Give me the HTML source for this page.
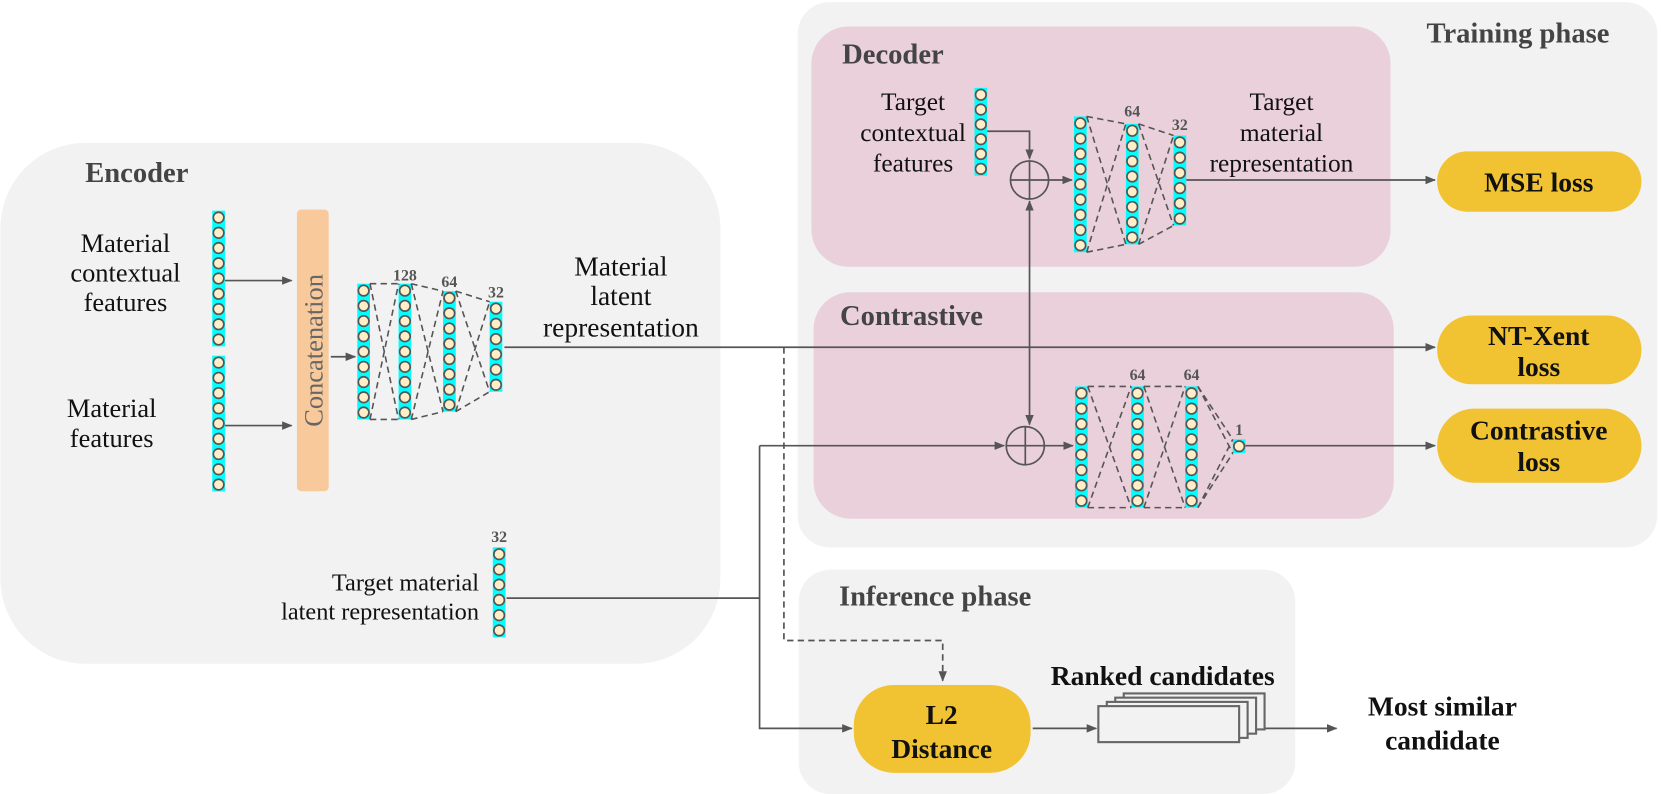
<!DOCTYPE html>
<html><head><meta charset="utf-8"><style>
html,body{margin:0;padding:0;background:#fff;}
svg{display:block;}
text{font-family:"Liberation Serif",serif;}
.t{font-size:23px;fill:#111;}
.h{font-size:27px;font-weight:bold;fill:#444;}
.b{font-size:26px;font-weight:bold;fill:#111;}
.n{font-size:15px;font-weight:bold;fill:#555;}
</style></head><body>
<svg id="s" width="1661" height="794" viewBox="0 0 1568 750" xmlns="http://www.w3.org/2000/svg">
<defs><marker id="a" markerWidth="10" markerHeight="8" refX="9" refY="4" orient="auto" markerUnits="userSpaceOnUse"><path d="M0,0 L10,4 L0,8 z" fill="#555"/></marker></defs>
<rect x="0" y="135" width="680" height="492" rx="80" fill="#f2f2f2"/>
<rect x="753" y="2" width="812" height="515" rx="30" fill="#f2f2f2"/>
<rect x="766" y="25" width="547" height="227" rx="35" fill="#ead0db"/>
<rect x="768" y="276" width="548" height="214" rx="35" fill="#ead0db"/>
<rect x="754" y="538" width="469" height="212" rx="30" fill="#f2f2f2"/>
<text class="h" x="80" y="172">Encoder</text>
<text class="h" x="795" y="60">Decoder</text>
<text class="h" x="793" y="307">Contrastive</text>
<text class="h" x="1347" y="40">Training phase</text>
<text class="h" x="792" y="572">Inference phase</text>
<g class="t" text-anchor="middle" style="font-size:25px">
<text x="118" y="238">Material</text><text x="118" y="266">contextual</text><text x="118" y="294">features</text>
<text x="105" y="394">Material</text><text x="105" y="422">features</text>
</g>
<g class="t" text-anchor="middle" style="font-size:26px">
<text x="586" y="260">Material</text><text x="586" y="288">latent</text><text x="586" y="318">representation</text>
</g>
<g class="t" text-anchor="middle" style="font-size:24px">
<text x="862" y="104">Target</text><text x="862" y="133">contextual</text><text x="862" y="162">features</text>
<text x="1210" y="104">Target</text><text x="1210" y="133">material</text><text x="1210" y="162">representation</text>
</g>
<g class="t" text-anchor="end" style="font-size:23px"><text x="452" y="558">Target material</text><text x="452" y="585">latent representation</text></g>
<rect x="280" y="198" width="30" height="266" rx="4" fill="#f8c99b"/>
<text transform="translate(304,331) rotate(-90)" text-anchor="middle" style="font-size:25px;fill:#666">Concatenation</text>
<g stroke="#555" stroke-width="1.6" fill="none">
<line x1="212" y1="265" x2="275" y2="265" marker-end="url(#a)"/>
<line x1="212" y1="402" x2="275" y2="402" marker-end="url(#a)"/>
<line x1="312" y1="337" x2="335" y2="337" marker-end="url(#a)"/>
<line x1="476" y1="328" x2="1355" y2="328" marker-end="url(#a)"/>
<path d="M740,328 V605 H890 V643" stroke-dasharray="6,4" marker-end="url(#a)"/>
<line x1="972" y1="328" x2="972" y2="190" marker-end="url(#a)"/>
<line x1="972" y1="328" x2="972" y2="401" marker-end="url(#a)"/>
<path d="M932,124 H972 V150" marker-end="url(#a)"/>
<circle cx="972" cy="170" r="18"/><line x1="954" y1="170" x2="990" y2="170"/><line x1="972" y1="152" x2="972" y2="188"/>
<line x1="990" y1="170" x2="1012" y2="170" marker-end="url(#a)"/>
<line x1="1120" y1="170" x2="1355" y2="170" marker-end="url(#a)"/>
<circle cx="968" cy="421" r="18"/><line x1="950" y1="421" x2="986" y2="421"/><line x1="968" y1="403" x2="968" y2="439"/>
<line x1="717" y1="421" x2="948" y2="421" marker-end="url(#a)"/>
<line x1="986" y1="421" x2="1013" y2="421" marker-end="url(#a)"/>
<line x1="1176" y1="421" x2="1355" y2="421" marker-end="url(#a)"/>
<line x1="478" y1="565" x2="717" y2="565"/>
<path d="M717,421 V688 H804" marker-end="url(#a)"/>
<line x1="975" y1="688" x2="1035" y2="688" marker-end="url(#a)"/>
<line x1="1194" y1="688" x2="1262" y2="688" marker-end="url(#a)"/>
</g>
<g stroke="#666" stroke-width="2" fill="#f2f2f2">
<rect x="1061" y="655" width="133" height="34"/>
<rect x="1053" y="659" width="133" height="34"/>
<rect x="1045" y="663" width="133" height="34"/>
<rect x="1037" y="667" width="133" height="34"/>
</g>
<text class="b" x="992" y="647">Ranked candidates</text>
<g class="b" text-anchor="middle"><text x="1362" y="676">Most similar</text><text x="1362" y="708">candidate</text></g>
<g fill="#f1c232">
<rect x="1357" y="143" width="193" height="57" rx="28.5"/>
<rect x="1357" y="298" width="193" height="65" rx="32.5"/>
<rect x="1357" y="386" width="193" height="70" rx="35"/>
<rect x="806" y="647" width="167" height="83" rx="38"/>
</g>
<g class="b" text-anchor="middle">
<text x="1453" y="181">MSE loss</text>
<text x="1453" y="326">NT-Xent</text><text x="1453" y="355">loss</text>
<text x="1453" y="415">Contrastive</text><text x="1453" y="445">loss</text>
<text x="889" y="684">L2</text><text x="889" y="716">Distance</text>
</g>
<g class="n" text-anchor="middle">
<text x="382" y="265">128</text><text x="424" y="271">64</text><text x="468" y="281">32</text>
<text x="1069" y="110">64</text><text x="1114" y="123">32</text>
<text x="1074" y="359">64</text><text x="1125" y="359">64</text><text x="1170" y="411">1</text>
<text x="471" y="512">32</text>
</g>
<g id="cols"></g>
</svg>
<script>
var NS="http://www.w3.org/2000/svg",g=document.getElementById("cols");
function el(t,a){var e=document.createElementNS(NS,t);for(var k in a)e.setAttribute(k,a[k]);g.appendChild(e);return e;}
function col(x,top,n,step){step=step||14.4;var h=(n-1)*step+13;
 el("rect",{x:x,y:top,width:12,height:h,fill:"#00ffff"});
 for(var i=0;i<n;i++)el("circle",{cx:x+6,cy:top+6.5+i*step,r:5,fill:"#ffeec7",stroke:"#555","stroke-width":1.6});
 return {x1:x,x2:x+12,t:top,b:top+h};}
function net(cs){for(var i=0;i<cs.length-1;i++){var a=cs[i],b=cs[i+1],o={stroke:"#555","stroke-width":1.5,"stroke-dasharray":"6,4",fill:"none"};
 [[a.t,b.t],[a.b,b.b],[a.t,b.b],[a.b,b.t]].forEach(function(p){o.x1=a.x2;o.y1=p[0];o.x2=b.x1;o.y2=p[1];el("line",o);});}}
col(200,199,9);col(200,336,9);
net([col(337,268,9),col(376,268,9),col(418,275,8),col(462,285,6)]);
col(920,83,6,14);
net([col(1014,110,9),col(1063,117,8),col(1108,128,6)]);
net([col(1015,365,8,14.5),col(1068,365,8,14.5),col(1119,365,8,14.5),col(1164,415,1)]);
col(465,517,6);
</script>
</body></html>
